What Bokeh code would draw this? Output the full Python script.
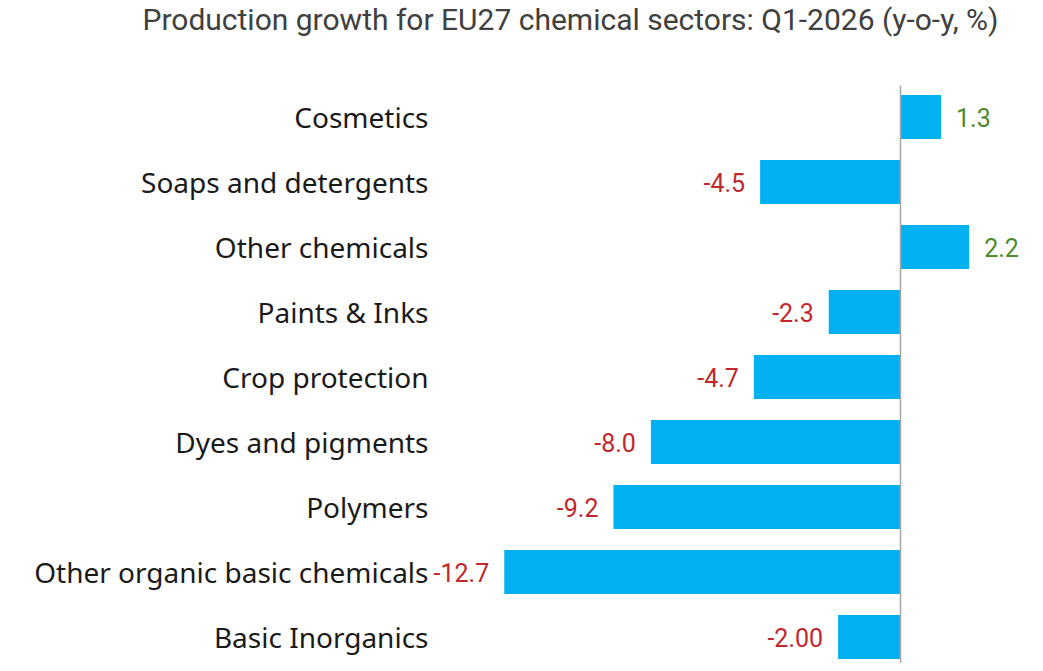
from bokeh.plotting import figure
from bokeh.models import ColumnDataSource, Label, Range1d, CDSView, IndexFilter
from bokeh.core.properties import value
from bokeh.embed import file_html
from bokeh.resources import INLINE

categories = ["Cosmetics", "Soaps and detergents", "Other chemicals", "Paints & Inks",
              "Crop protection", "Dyes and pigments", "Polymers",
              "Other organic basic chemicals", "Basic Inorganics"]
growth = [1.3, -4.5, 2.2, -2.3, -4.7, -8.0, -9.2, -12.7, -2.0]
value_labels = ["1.3", "-4.5", "2.2", "-2.3", "-4.7", "-8.0", "-9.2", "-12.7", "-2.00"]
title_text = "Production growth for EU27 chemical sectors: Q1-2026 (y-o-y, %)"

W, H = 1027, 663
px_per_unit = 31.2
zero_px = 900.0
row_px = 65.0
first_row_px = 116.5  # px of top row centre

x_start = -zero_px / px_per_unit
x_end = (W - zero_px) / px_per_unit
n = len(categories)
ypos = [n - 1 - i for i in range(n)]
y_end = (n - 1) + first_row_px / row_px
y_start = y_end - H / row_px

p = figure(width=W, height=H, output_backend="svg", toolbar_location=None,
           x_range=Range1d(x_start, x_end), y_range=Range1d(y_start, y_end),
           min_border=0, outline_line_color=None)
p.xaxis.visible = False
p.yaxis.visible = False
p.grid.visible = False
p.background_fill_color = "white"
p.border_fill_color = "white"

src = ColumnDataSource(dict(y=ypos, v=growth, cat=categories, lab=value_labels))

p.hbar(y="y", left=0, right="v", height=0.68, source=src,
       fill_color="#00B0F0", line_color=None)

# zero line
top_line = (n - 1) + (first_row_px - 85) / row_px
p.segment(x0=[0], y0=[top_line], x1=[0], y1=[y_start], line_color="#A6A6A6", line_width=1.5)

# category labels
cat_x = x_start + 428 / px_per_unit
p.text(x=cat_x, y="y", text="cat", source=src, text_align="right", text_baseline="middle",
       text_font=value("Noto Sans"), text_font_size="28px", text_color="#1a1a1a")

pos = [i for i, v in enumerate(growth) if v > 0]
neg = [i for i, v in enumerate(growth) if v <= 0]
p.text(x="v", y="y", text="lab", source=src, view=CDSView(filter=IndexFilter(pos)),
       text_align="left", text_baseline="middle", x_offset=15,
       text_font=value("Roboto"), text_font_size="25px", text_color="#4E8A2E")
p.text(x="v", y="y", text="lab", source=src, view=CDSView(filter=IndexFilter(neg)),
       text_align="right", text_baseline="middle", x_offset=-15,
       text_font=value("Roboto"), text_font_size="25px", text_color="#C0282D")

p.add_layout(Label(x=570, y=H - 19, x_units="screen", y_units="screen", text=title_text,
                   text_align="center", text_baseline="middle",
                   text_font="Roboto", text_font_size="30px",
                   text_color="#404040"))

open("out.html", "w").write(file_html(p, INLINE))
